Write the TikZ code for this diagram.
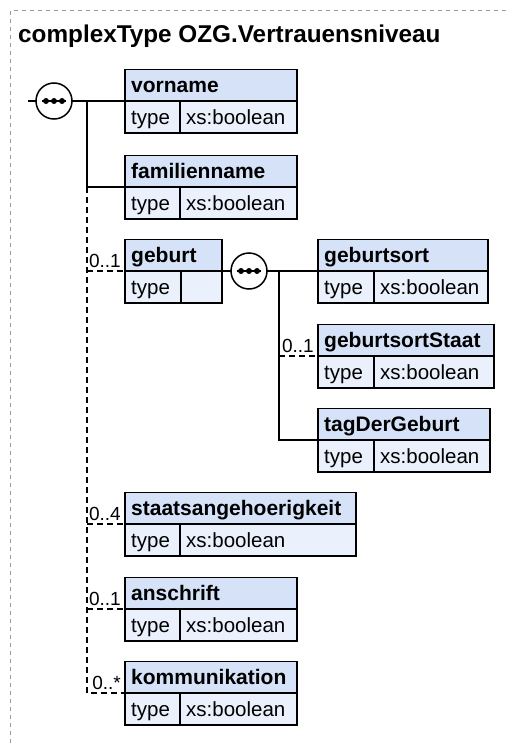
\documentclass[tikz,border=0pt]{standalone}
\usepackage{fontspec}
\setmainfont{Liberation Sans}
\definecolor{hdrblue}{RGB}{214,226,248}
\definecolor{rowblue}{RGB}{234,241,252}
\definecolor{framegray}{RGB}{155,155,155}
\tikzset{
  hdr/.style={rectangle, draw=black, fill=hdrblue, line width=1.8pt, inner sep=0pt, outer sep=0pt, anchor=south west, minimum height=31.5pt},
  cell/.style={rectangle, draw=black, fill=rowblue, line width=1.8pt, inner sep=0pt, outer sep=0pt, anchor=north west, minimum height=32pt},
  ttl/.style={font=\fontsize{21}{24}\selectfont\bfseries, inner sep=0pt, anchor=base west},
  txt/.style={font=\fontsize{20.5}{24}\selectfont, inner sep=0pt, anchor=base west},
  occ/.style={font=\fontsize{19}{22}\selectfont, inner sep=0pt, anchor=base east},
  seq/.style={circle, draw=black, fill=white, line width=1.5pt, minimum size=36pt, inner sep=0pt, outer sep=0pt},
  conn/.style={line width=1.5pt, draw=black},
  opt/.style={conn, dash pattern=on 6pt off 4pt},
  framel/.style={draw=framegray, line width=1pt, dash pattern=on 4pt off 4pt},
}
% #1 name, #2 x1, #3 y of header/type divider, #4 x2, #5 x of type divider, #6 title, #7 value
\newcommand{\xelem}[7]{%
  \node[hdr, minimum width={(#4-#2)*1pt}] (#1) at (#2,#3) {};
  \node[cell, minimum width={(#5-#2)*1pt}] (#1-k) at (#1.south west) {};
  \node[cell, minimum width={(#4-#5)*1pt}] (#1-v) at (#1-k.north east) {};
  \node[ttl] (#1-t) at ([shift={(6pt,9pt)}]#1.south west) {#6};
  \node[txt] (#1-kt) at ([shift={(6pt,9pt)}]#1-k.south west) {type};
  \node[txt] (#1-vt) at ([shift={(6pt,9pt)}]#1-v.south west) {#7};
}
\newcommand{\seqdots}[1]{%
  \draw[line width=1.5pt] ([xshift=-12pt]#1.center) -- ([xshift=12pt]#1.center);
  \fill ([xshift=-8pt]#1.center) circle (3pt);
  \fill (#1.center) circle (3pt);
  \fill ([xshift=8pt]#1.center) circle (3pt);
}
\begin{document}
\begin{tikzpicture}[x=1pt,y=-1pt]
\useasboundingbox (0,0) rectangle (506,744);
% frame
\coordinate (fTL) at (10.5,10.5);
\coordinate (fTR) at (506,10.5);
\coordinate (fBL) at (10.5,744);
\draw[framel] (fTR) -- (fTL) -- (fBL);
% title
\node[font=\fontsize{24.3}{28}\selectfont\bfseries, anchor=base west, inner sep=0pt] (title) at (18,42) {complexType OZG.Vertrauensniveau};
% elements
\xelem{vorname}{125}{101}{297}{180}{vorname}{xs:boolean}
\xelem{familienname}{125}{187}{297}{180}{familienname}{xs:boolean}
\xelem{geburt}{125}{271}{222}{181}{geburt}{}
\xelem{geburtsort}{318}{271}{488}{374}{geburtsort}{xs:boolean}
\xelem{geburtsortStaat}{318}{356}{494}{374}{geburtsortStaat}{xs:boolean}
\xelem{tagDerGeburt}{318}{440}{490}{374}{tagDerGeburt}{xs:boolean}
\xelem{staats}{125}{524}{356}{180}{staatsangehoerigkeit}{xs:boolean}
\xelem{anschrift}{125}{609}{297}{180}{anschrift}{xs:boolean}
\xelem{kommunikation}{125}{693}{297}{180}{kommunikation}{xs:boolean}
% sequence compositors
\node[seq] (s1) at (54,101) {};
\seqdots{s1}
\node[seq] (s2) at (249,271) {};
\seqdots{s2}
% connectors, level 1
\coordinate (in) at (28,101);
\coordinate (tA) at (87,101);
\draw[conn] (in) -- (s1.west);
\draw[conn] (s1.east) -- (vorname.south west);
\draw[conn] (tA) |- (familienname.south west);
\draw[opt] (tA |- familienname.south west) |- (kommunikation.south west);
\draw[opt] (tA |- geburt.south west) -- (geburt.south west);
\draw[opt] (tA |- staats.south west) -- (staats.south west);
\draw[opt] (tA |- anschrift.south west) -- (anschrift.south west);
% connectors, level 2
\coordinate (tB) at (279,271);
\draw[conn] (geburt.south east) -- (s2.west);
\draw[conn] (s2.east) -- (geburtsort.south west);
\draw[conn] (tB) |- (tagDerGeburt.south west);
\draw[opt] (tB |- geburtsortStaat.south west) -- (geburtsortStaat.south west);
% occurrences
\node[occ] (o-geburt) at ([shift={(-4pt,4pt)}]geburt.south west) {0..1};
\node[occ] (o-gstaat) at ([shift={(-4pt,4pt)}]geburtsortStaat.south west) {0..1};
\node[occ] (o-staats) at ([shift={(-4pt,4pt)}]staats.south west) {0..4};
\node[occ] (o-ansch) at ([shift={(-4pt,4pt)}]anschrift.south west) {0..1};
\node[occ] (o-komm) at ([shift={(-4pt,4pt)}]kommunikation.south west) {0..*};
\end{tikzpicture}
\end{document}
